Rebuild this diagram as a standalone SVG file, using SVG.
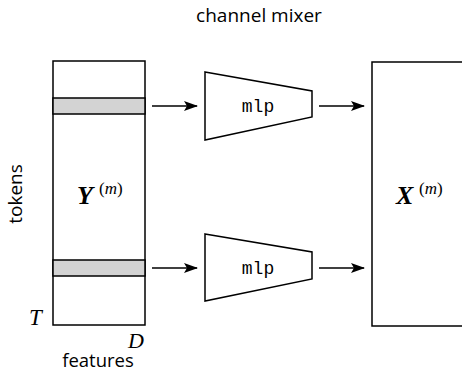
<svg xmlns="http://www.w3.org/2000/svg" width="462" height="372" viewBox="0 0 462 372">
  <style>
    .box { fill: #ffffff; stroke: #000000; stroke-width: 1.5; }
    .row { fill: #d3d3d3; stroke: #000000; stroke-width: 1.5; }
    .lbl { font-family: "Open Sans", "Liberation Sans", sans-serif; font-size: 18.5px; fill: #000000; }
    .math { font-family: "Liberation Serif", serif; font-style: italic; fill: #000000; }
    .sym { font-size: 26px; font-weight: bold; }
    .sup { font-size: 17px; }
    .up { font-style: normal; }
    .mono { font-family: "Liberation Mono", "DejaVu Sans Mono", monospace; font-size: 18px; fill: #000000; }
    .conn { stroke: #000000; stroke-width: 1.5; fill: none; marker-end: url(#head); }
  </style>
  <defs>
    <marker id="head" viewBox="0 0 14 10" refX="13" refY="5" markerWidth="14" markerHeight="10" markerUnits="userSpaceOnUse" orient="auto">
      <path d="M0,0 L14,5 L0,10 L3,5 Z" fill="#000000"/>
    </marker>
  </defs>

  <rect width="462" height="372" fill="#ffffff"/>

  <text class="lbl" x="259" y="22" text-anchor="middle" style="font-size:19px">channel mixer</text>

  <g id="input-matrix">
    <rect class="box" x="53" y="61" width="92" height="264"/>
    <rect class="row" x="53" y="98" width="92" height="16"/>
    <rect class="row" x="53" y="260" width="92" height="16"/>
    <text class="math sym" x="77" y="204">Y</text>
    <text class="math sup" x="99" y="194"><tspan class="up">(</tspan>m<tspan class="up">)</tspan></text>
    <text class="lbl" transform="translate(22,194) rotate(-90)" text-anchor="middle" style="font-size:19px">tokens</text>
    <text class="math" x="29" y="325" font-size="23">T</text>
    <text class="math" x="128" y="348" font-size="22">D</text>
    <text class="lbl" x="98" y="367" text-anchor="middle">features</text>
  </g>

  <g id="mlp-top">
    <polygon class="box" points="205,72 312,91 312,117 205,140"/>
    <text class="mono" x="258" y="112" text-anchor="middle">mlp</text>
  </g>

  <g id="mlp-bottom">
    <polygon class="box" points="205,234 312,252 312,279 205,301"/>
    <text class="mono" x="258" y="274" text-anchor="middle">mlp</text>
  </g>

  <g id="output-matrix">
    <rect class="box" x="372" y="62" width="100" height="264"/>
    <text class="math sym" x="396" y="204">X</text>
    <text class="math sup" x="419" y="194"><tspan class="up">(</tspan>m<tspan class="up">)</tspan></text>
  </g>

  <g id="connectors">
    <line class="conn" x1="152" y1="106" x2="197" y2="106"/>
    <line class="conn" x1="319" y1="106" x2="364" y2="106"/>
    <line class="conn" x1="152" y1="268" x2="197" y2="268"/>
    <line class="conn" x1="319" y1="268" x2="364" y2="268"/>
  </g>
</svg>
